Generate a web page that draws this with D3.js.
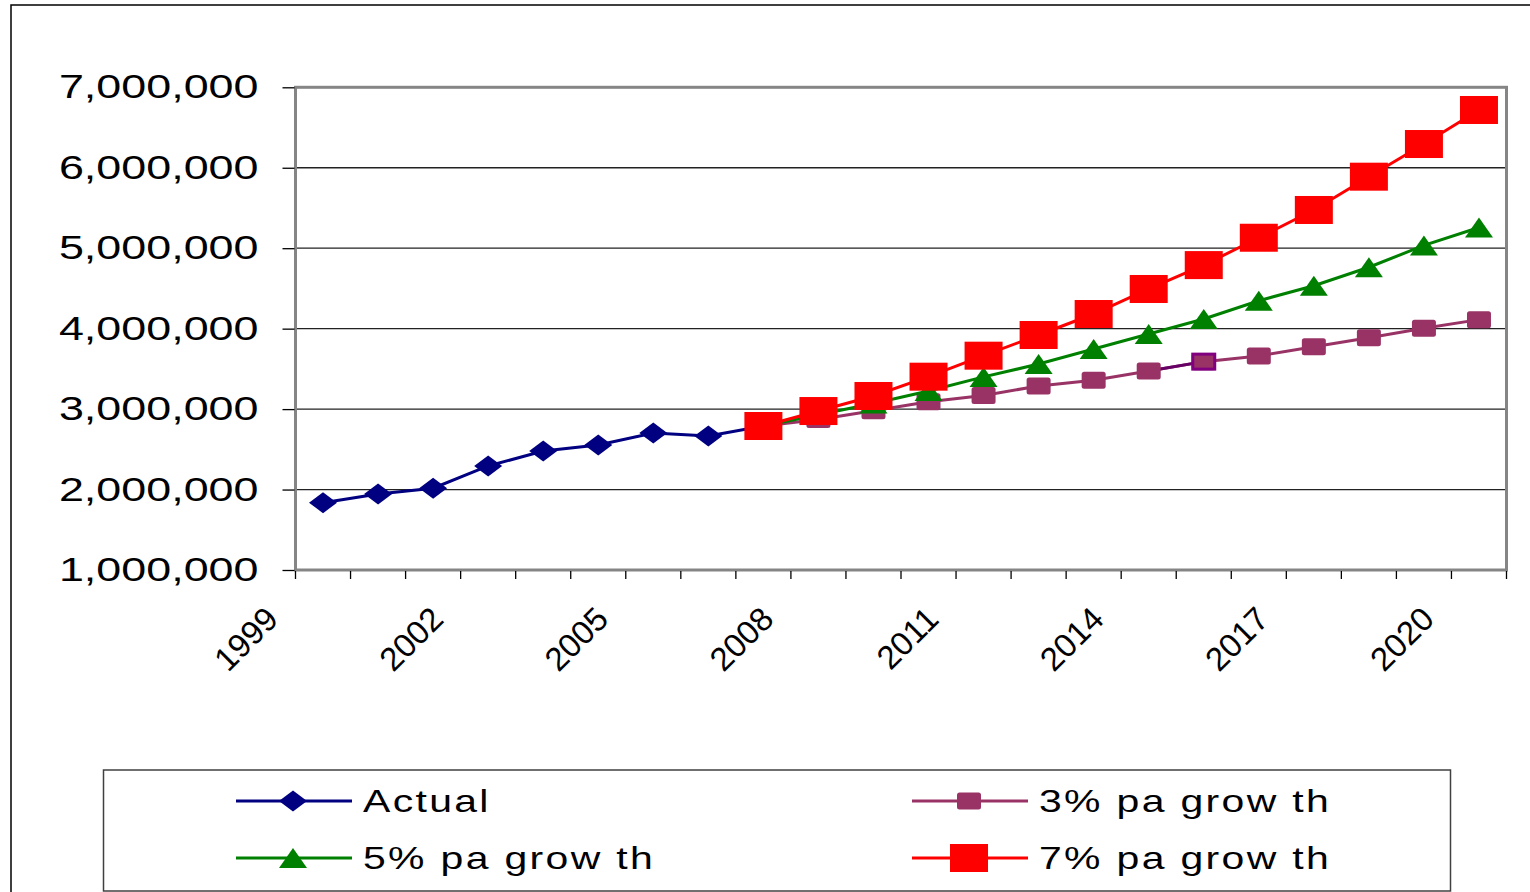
<!DOCTYPE html>
<html>
<head>
<meta charset="utf-8">
<script src="https://cdn.jsdelivr.net/npm/d3@7"></script>
<style>
  body { margin: 0; background: #fff; }
  text { font-family: "Liberation Sans", Arial, sans-serif; fill: #000; }
</style>
</head>
<body>
<div class="chart"></div>
<script>
// categories
const years = ['1999','2000','2001','2002','2003','2004','2005','2006','2007','2008','2009',
  '2010','2011','2012','2013','2014','2015','2016','2017','2018','2019','2020']
const labelYears = ['1999','2002','2005','2008','2011','2014','2017','2020']
const yTicks = [1000000, 2000000, 3000000, 4000000, 5000000, 6000000, 7000000]

// series values
const actualYears = ['1999','2000','2001','2002','2003','2004','2005','2006','2007']
const actual = [1837000, 1945000, 2016000, 2293000, 2479000, 2554000, 2703000, 2666000, 2790000]

const projYears = ['2007','2008','2009','2010','2011','2012','2013','2014','2015','2016','2017','2018','2019','2020']
const growth3 = [2790000, 2870000, 2980000, 3090000, 3170000, 3287000, 3358000, 3473000, 3590000, 3660000, 3776000, 3888000, 4006000, 4112000]
const growth5 = [2790000, 2930000, 3070000, 3225000, 3400000, 3560000, 3747000, 3934000, 4120000, 4347000, 4534000, 4763000, 5035000, 5257000]
const growth7 = [2790000, 2976000, 3163000, 3403000, 3664000, 3921000, 4182000, 4493000, 4790000, 5130000, 5475000, 5889000, 6295000, 6718000]

const seriesNames = ['Actual', '3% pa grow th', '5% pa grow th', '7% pa grow th']

let svg = d3.select('.chart')
  .append('svg')
  .attr('width', 1530)
  .attr('height', 892)

// outer chart border
svg.append('rect')
  .attr('x', 11).attr('y', 5)
  .attr('width', 1600).attr('height', 1000)
  .attr('fill', 'none')
  .attr('stroke', '#000')
  .attr('stroke-width', 1.5)

const plot = {left: 295.5, right: 1506.5, top: 87.3, bottom: 570}

let x = d3.scaleBand()
  .domain(years)
  .range([plot.left, plot.right])

let y = d3.scaleLinear()
  .domain([1000000, 7000000])
  .range([plot.bottom, plot.top])

const cx = d => x(d) + x.bandwidth() / 2

// gridlines
svg.append('g').selectAll('line')
  .data(yTicks.slice(1, -1))
  .enter()
  .append('line')
  .attr('x1', plot.left).attr('x2', plot.right)
  .attr('y1', d => y(d)).attr('y2', d => y(d))
  .attr('stroke', '#222')
  .attr('stroke-width', 1.3)

// plot frame
svg.append('rect')
  .attr('x', plot.left).attr('y', plot.top)
  .attr('width', plot.right - plot.left)
  .attr('height', plot.bottom - plot.top)
  .attr('fill', 'none')
  .attr('stroke', '#858585')
  .attr('stroke-width', 3)

// y axis
let yAxis = svg.append('g')
  .attr('transform', 'translate(' + (plot.left - 1) + ',0)')
  .call(d3.axisLeft(y).tickValues(yTicks).tickSize(12).tickFormat(d3.format(',')))
yAxis.select('.domain').remove()
yAxis.selectAll('.tick line').attr('stroke', '#000').attr('stroke-width', 1.3)
yAxis.selectAll('.tick text')
  .attr('x', 0).attr('dy', 0)
  .attr('transform', 'translate(-36,10.5) scale(1.32,1)')
  .attr('text-anchor', 'end')
  .style('font-size', '34px')

// x ticks at category boundaries
svg.append('g').selectAll('line')
  .data(d3.range(years.length + 1))
  .enter()
  .append('line')
  .attr('x1', i => plot.left + i * x.step())
  .attr('x2', i => plot.left + i * x.step())
  .attr('y1', plot.bottom + 1).attr('y2', plot.bottom + 9)
  .attr('stroke', '#000')
  .attr('stroke-width', 1.3)

let xAxis = svg.append('g')
  .attr('transform', 'translate(0,' + plot.bottom + ')')
  .call(d3.axisBottom(x).tickValues(labelYears).tickSize(0))
xAxis.select('.domain').remove()
xAxis.selectAll('.tick text')
  .attr('y', 0).attr('dy', 0)
  .attr('transform', 'translate(-43,51) rotate(-45)')
  .attr('text-anchor', 'end')
  .style('font-size', '33px')

// markers
function marker(sel, shape, w, h, color) {
  if (shape === 'square') {
    sel.append('rect')
      .attr('x', -w / 2).attr('y', -h / 2)
      .attr('width', w).attr('height', h)
      .attr('rx', w < 30 ? 2.5 : 0)
      .attr('fill', color)
  } else {
    let p = shape === 'diamond'
      ? 'M0,' + (-h / 2) + 'L' + (w / 2) + ',0L0,' + (h / 2) + 'L' + (-w / 2) + ',0Z'
      : 'M0,' + (-h / 2) + 'L' + (w / 2) + ',' + (h / 2) + 'L' + (-w / 2) + ',' + (h / 2) + 'Z'
    sel.append('path').attr('d', p).attr('fill', color)
  }
}

const series = [
  {name: seriesNames[0], cats: actualYears, vals: actual, color: '#000080', shape: 'diamond', w: 28, h: 21},
  {name: seriesNames[1], cats: projYears, vals: growth3, color: '#993366', shape: 'square', w: 24, h: 17},
  {name: seriesNames[2], cats: projYears, vals: growth5, color: '#008000', shape: 'triangle', w: 28, h: 20},
  {name: seriesNames[3], cats: projYears, vals: growth7, color: '#FF0000', shape: 'square', w: 38, h: 28}
]

let line = d3.line()
  .x(d => cx(d[0]))
  .y(d => y(d[1]))

series.forEach((s, si) => {
  let pts = s.cats.map((c, i) => [c, s.vals[i]])
  let g = svg.append('g')
  g.append('path')
    .attr('d', line(pts))
    .attr('fill', 'none')
    .attr('stroke', s.color)
    .attr('stroke-width', 3)
  if (si === 1) {
    // selected point in the 3% series (2015) and the segment into it
    g.append('path')
      .attr('d', line(pts.slice(7, 9)))
      .attr('fill', 'none')
      .attr('stroke', '#660066')
      .attr('stroke-width', 3)
  }
  g.selectAll('g.pt')
    .data(pts)
    .enter()
    .append('g')
    .attr('class', 'pt')
    .attr('transform', d => 'translate(' + cx(d[0]) + ',' + y(d[1]) + ')')
    .each(function (d) { marker(d3.select(this), s.shape, s.w, s.h, s.color) })
  if (si === 1) {
    let p = pts[8]
    g.append('rect')
      .attr('x', cx(p[0]) - 11).attr('y', y(p[1]) - 7.5)
      .attr('width', 22).attr('height', 15)
      .attr('fill', 'none')
      .attr('stroke', '#800080')
      .attr('stroke-width', 3)
  }
})

// legend
svg.append('rect')
  .attr('x', 103.5).attr('y', 770)
  .attr('width', 1347).attr('height', 121)
  .attr('fill', '#fff')
  .attr('stroke', '#404040')
  .attr('stroke-width', 1.5)

const legendPos = [[236, 801], [912, 801], [236, 858], [912, 858]]
series.forEach((s, i) => {
  let g = svg.append('g')
    .attr('transform', 'translate(' + legendPos[i][0] + ',' + legendPos[i][1] + ')')
  g.append('line')
    .attr('x1', 0).attr('x2', 116)
    .attr('stroke', s.color)
    .attr('stroke-width', 3)
  let m = g.append('g').attr('transform', 'translate(57,0)')
  marker(m, s.shape, s.w, s.h, s.color)
  g.append('text')
    .attr('transform', 'translate(127,10.5) scale(1.3,1)')
    .style('font-size', '31.5px')
    .style('letter-spacing', '1.8px')
    .text(s.name)
})
</script>
</body>
</html>
